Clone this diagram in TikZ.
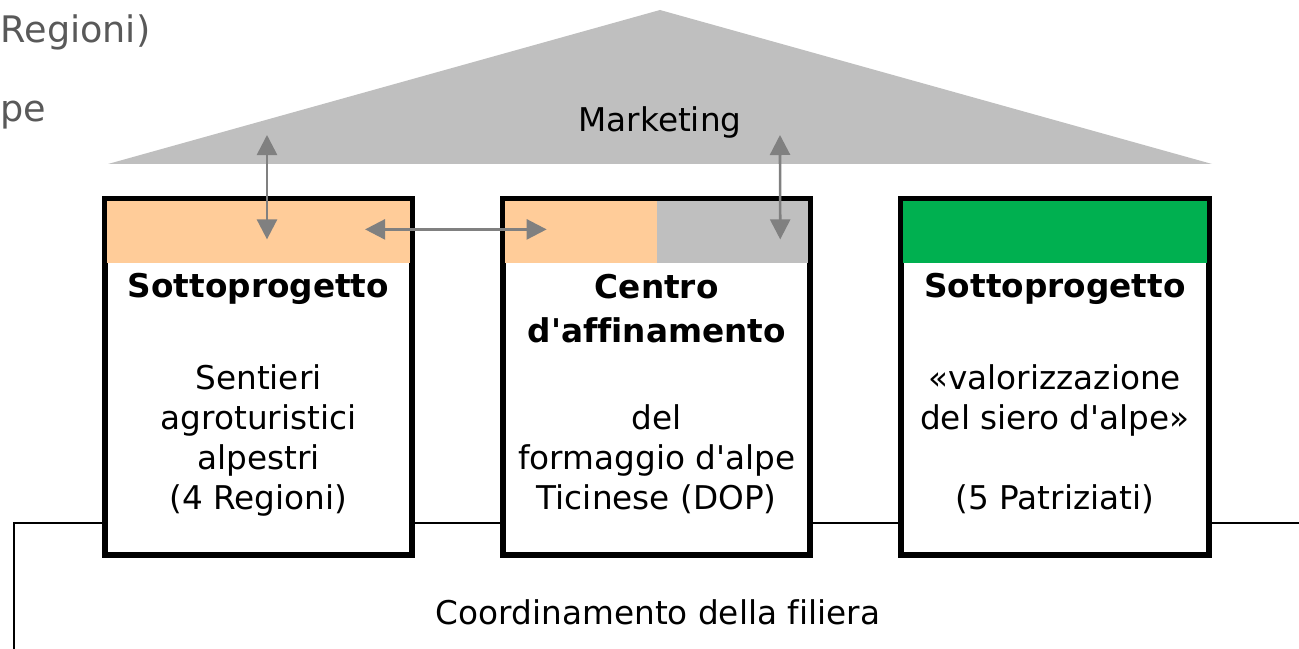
\documentclass[tikz,border=0pt]{standalone}
\usepackage{fontspec}
\setmainfont{DejaVu Sans}[Ligatures={NoCommon}]
\usetikzlibrary{positioning,arrows.meta}
\definecolor{peach}{HTML}{FFCC99}
\definecolor{roofgrey}{HTML}{BFBFBF}
\definecolor{alpgreen}{HTML}{00B050}
\definecolor{arrowgrey}{HTML}{808080}
\definecolor{fadedgrey}{HTML}{595959}
\newcommand{\apos}{\textquotesingle}

\begin{document}
\begin{tikzpicture}[x=0.01cm,y=-0.01cm,font=\fontsize{9.3pt}{11.4pt}\selectfont,
    box/.style={rectangle,draw,line width=1.7pt,fill=white,outer sep=0pt,minimum width=3.07cm,minimum height=3.55cm},
    title/.style={font=\fontsize{9.3pt}{12.5pt}\selectfont\bfseries,align=center,inner sep=0pt},
    body/.style={align=center,inner sep=0pt},
    link/.style={{Triangle[width=0.2cm,length=0.2cm]}-{Triangle[width=0.2cm,length=0.2cm]},line width=0.75pt,draw=arrowgrey},
    clipped/.style={anchor=west,inner sep=0pt,text=fadedgrey,font=\fontsize{10.4pt}{12pt}\selectfont}]

    \useasboundingbox (0,0) rectangle (1299,649);

    % remnants at the left edge
    \node[clipped] (regioni) at (0,32) {Regioni)};
    \node[clipped] (alpe) at (0,115) {pe};

    % roof
    \fill[roofgrey] (108,164) -- (660,10) -- (1212,164) -- cycle;
    \node (marketing) at (660,122) {Marketing};

    % supply chain line
    \coordinate (filiera start) at (14,649);
    \coordinate (filiera end) at (1299,523);
    \draw[line width=0.8pt] (filiera start) |- (filiera end);
    \node (filiera) at (658,612) {Coordinamento della filiera};

    % the three pillars
    \node[box] (sentieri) at (258.5,377) {};
    \node[box, right=0.91cm of sentieri] (centro) {};
    \node[box, right=0.91cm of centro] (siero) {};

    \fill[peach] ([shift={(2,2)}]sentieri.north west) rectangle ([shift={(-2,64)}]sentieri.north east);
    \fill[peach] ([shift={(2,2)}]centro.north west) rectangle ([shift={(0,64)}]centro.north);
    \fill[roofgrey] ([shift={(0,2)}]centro.north) rectangle ([shift={(-2,64)}]centro.north east);
    \fill[alpgreen] ([shift={(2,2)}]siero.north west) rectangle ([shift={(-2,64)}]siero.north east);

    \node[title] (sentieri title) at ([shift={(0,90)}]sentieri.north) {Sottoprogetto};
    \node[body] (sentieri text) at ([shift={(0,241)}]sentieri.north) {Sentieri\\agroturistici\\alpestri\\(4 Regioni)};

    \node[title] (centro title) at ([shift={(0,109)}]centro.north) {Centro\\d\apos affinamento};
    \node[body] (centro text) at ([shift={(0,260)}]centro.north) {del\\formaggio d\apos alpe\\Ticinese (DOP)};

    \node[title] (siero title) at ([shift={(0,90)}]siero.north) {Sottoprogetto};
    \node[body] (siero text) at ([shift={(0,240)}]siero.north) {«valorizzazione\\del siero d\apos alpe»\\[11.4pt](5 Patriziati)};

    % links
    \coordinate (roof left) at (267,135);
    \coordinate (roof right) at (780,135);
    \draw[link] (roof left) -- ([shift={(8.5,40)}]sentieri.north);
    \draw[link] ([shift={(-47,30)}]sentieri.north east) -- ([shift={(43.5,30)}]centro.north west);
    \draw[link] (roof right) -- ([shift={(123.5,40)}]centro.north);
\end{tikzpicture}
\end{document}
